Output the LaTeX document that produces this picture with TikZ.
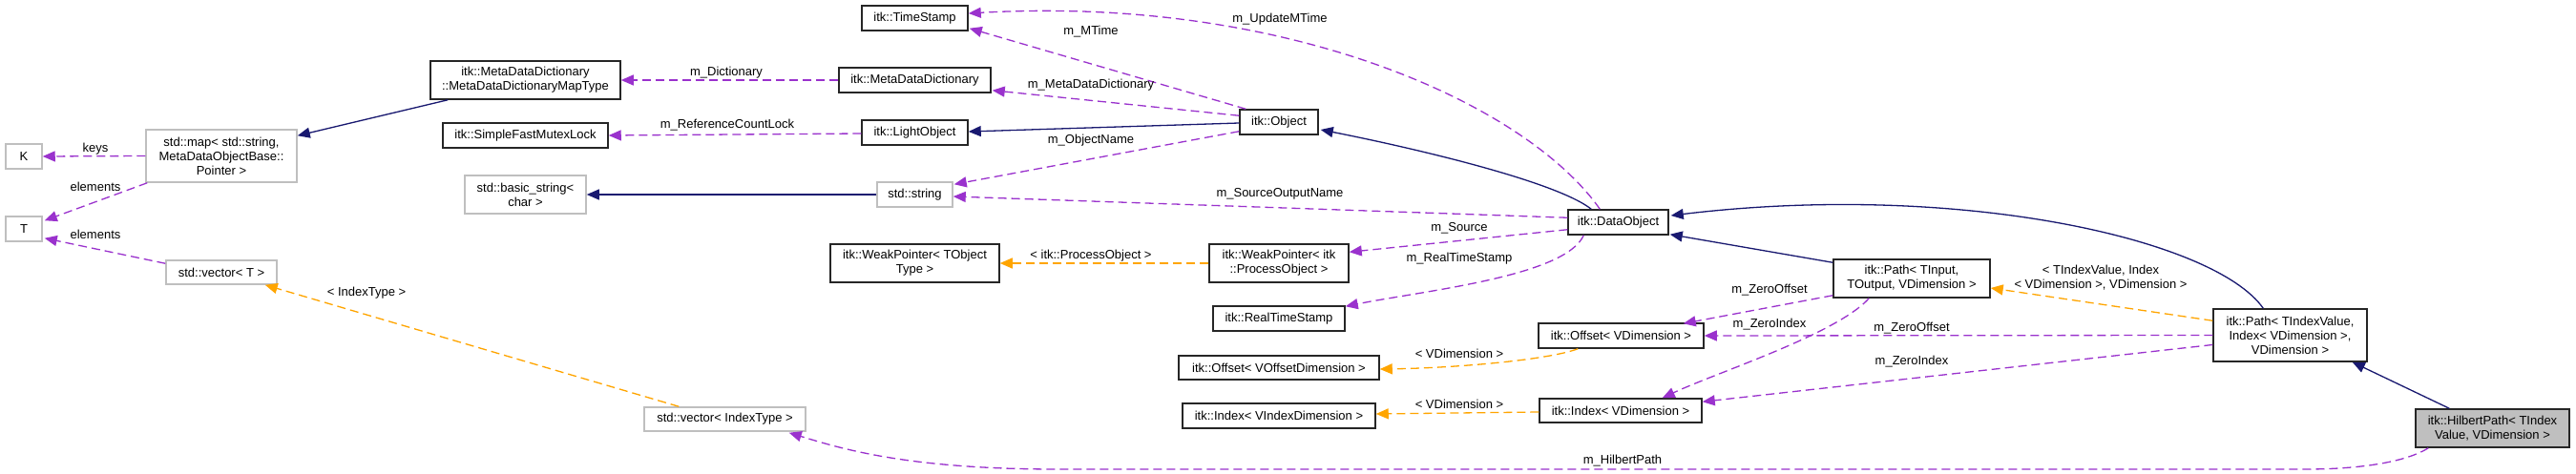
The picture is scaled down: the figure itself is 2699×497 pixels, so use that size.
\documentclass[tikz,border=0pt]{standalone}
\usepackage{fontspec}
\setmainfont{Liberation Sans}
\usetikzlibrary{arrows.meta,calc}
\definecolor{dpurple}{HTML}{9A32CD}
\definecolor{dorange}{HTML}{FFA500}
\definecolor{dnavy}{HTML}{191970}
\definecolor{dgrey}{HTML}{BFBFBF}
\begin{document}
\begin{tikzpicture}[x=1pt,y=-1pt,
  font=\fontsize{13}{15}\selectfont,
  cls/.style={draw=black!85, fill=white, line width=1.5pt, inner sep=0pt, align=center},
  ucls/.style={draw=dgrey, fill=white, line width=1.5pt, inner sep=0pt, align=center},
  curcls/.style={draw=black!85, fill=dgrey, line width=1.5pt, inner sep=0pt, align=center},
  lbl/.style={inner sep=0pt, align=center},
  inh/.style={draw=dnavy, line width=1.3pt, -{Triangle[length=13pt,width=11pt]}, dnavy},
  usage/.style={draw=dpurple, line width=1.3pt, dash pattern=on 9pt off 5pt, -{Triangle[length=13pt,width=11pt]}, dpurple},
  tmpl/.style={draw=dorange, line width=1.3pt, dash pattern=on 9pt off 5pt, -{Triangle[length=13pt,width=11pt]}, dorange}]
\fill[white] (0,0) rectangle (2699,497);
\useasboundingbox (0,0) rectangle (2699,497);

% nodes
\node[cls, minimum width=199pt, minimum height=40pt] (mapType) at (550.5,84) {itk::MetaDataDictionary\\::MetaDataDictionaryMapType};
\node[cls, minimum width=173pt, minimum height=26pt] (sfml) at (550.5,142) {itk::SimpleFastMutexLock};
\node[ucls, minimum width=158pt, minimum height=55pt] (stdmap) at (232,163.5) {std::map< std::string,\\ MetaDataObjectBase::\\Pointer >};
\node[ucls, minimum width=38pt, minimum height=26pt] (K) at (25,164) {K};
\node[ucls, minimum width=38pt, minimum height=26pt] (T) at (25,240) {T};
\node[ucls, minimum width=127pt, minimum height=40pt] (bstr) at (550.5,204) {std::basic\_string<\\char >};
\node[ucls, minimum width=116pt, minimum height=25pt] (vecT) at (232,285.5) {std::vector< T >};
\node[ucls, minimum width=169pt, minimum height=25pt] (vecIdx) at (759.5,439.5) {std::vector< IndexType >};
\node[cls, minimum width=111pt, minimum height=26pt] (ts) at (958.5,19) {itk::TimeStamp};
\node[cls, minimum width=159pt, minimum height=26pt] (mdd) at (958.5,84) {itk::MetaDataDictionary};
\node[cls, minimum width=111pt, minimum height=26pt] (lobj) at (958.5,139) {itk::LightObject};
\node[ucls, minimum width=79pt, minimum height=26pt] (sstr) at (958.5,204) {std::string};
\node[cls, minimum width=177pt, minimum height=40pt] (wpT) at (958.5,276) {itk::WeakPointer< TObject\\Type >};
\node[cls, minimum width=82pt, minimum height=26pt] (obj) at (1340,128) {itk::Object};
\node[cls, minimum width=146pt, minimum height=40pt] (wpPO) at (1340,276) {itk::WeakPointer< itk\\::ProcessObject >};
\node[cls, minimum width=138pt, minimum height=26pt] (rts) at (1340,334) {itk::RealTimeStamp};
\node[cls, minimum width=210pt, minimum height=25pt] (offV) at (1340,385.5) {itk::Offset< VOffsetDimension >};
\node[cls, minimum width=202pt, minimum height=26pt] (idxV) at (1340,436) {itk::Index< VIndexDimension >};
\node[cls, minimum width=105pt, minimum height=26pt] (dobj) at (1695.5,233) {itk::DataObject};
\node[cls, minimum width=173pt, minimum height=26pt] (offD) at (1698.5,352) {itk::Offset< VDimension >};
\node[cls, minimum width=170pt, minimum height=25pt] (idxD) at (1698,430.5) {itk::Index< VDimension >};
\node[cls, minimum width=164pt, minimum height=40pt] (pathIn) at (2003,292) {itk::Path< TInput,\\ TOutput, VDimension >};
\node[cls, minimum width=161pt, minimum height=55pt] (pathIV) at (2399.5,351.5) {itk::Path< TIndexValue,\\ Index< VDimension >,\\ VDimension >};
\node[curcls, minimum width=161pt, minimum height=40pt] (hp) at (2611.5,449) {itk::HilbertPath< TIndex\\Value, VDimension >};

% edges
\draw[inh] ($(mapType.south west)+(19,0)$) -- ($(stdmap.north east)+(0,7)$);
\draw[usage] (stdmap.west) -- (K.east);
\draw[usage] ($(stdmap.south west)+(2,0)$) -- ($(T.north east)+(2,5)$);
\draw[usage] ($(vecT.north west)+(0,4)$) -- ($(T.south east)+(2,-4)$);
\draw[tmpl] ($(vecIdx.north west)+(37,0)$) -- ($(vecT.south east)+(-13,0)$);
\draw[usage] ($(hp.south west)+(14,0)$) .. controls (2520,485) and (2470,492) .. (2416,492) -- (1108,492) .. controls (950,492) and (880,470) .. ($(vecIdx.south east)+(-18,1)$);
\draw[usage] (mdd.west) -- (mapType.east);
\draw[usage] ($(lobj.west)+(0,1)$) -- (sfml.east);
\draw[inh] (sstr.west) -- (bstr.east);
\draw[usage] ($(obj.north west)+(7,0)$) -- ($(ts.south east)+(1,-3)$);
\draw[usage] ($(dobj.north west)+(34,0)$) .. controls (1600,110) and (1350,-5) .. ($(ts.east)+(0,-5)$);
\draw[usage] ($(obj.north west)+(0,7)$) -- ($(mdd.south east)+(1,-3)$);
\draw[inh] ($(obj.west)+(0,1)$) -- ($(lobj.east)+(0,-1)$);
\draw[usage] ($(obj.south west)+(0,-4)$) -- ($(sstr.north east)+(1,3)$);
\draw[usage] ($(dobj.north west)+(0,9)$) -- ($(sstr.east)+(0,2)$);
\draw[inh] ($(dobj.north west)+(25,0)$) .. controls (1630,190) and (1480,155) .. ($(obj.east)+(2,8)$);
\draw[usage] ($(dobj.south west)+(0,-6)$) -- ($(wpPO.north east)+(0,9)$);
\draw[usage] ($(dobj.south west)+(17,0)$) .. controls (1640,290) and (1490,305) .. ($(rts.north east)+(0,1)$);
\draw[tmpl] (wpPO.west) -- (wpT.east);
\draw[inh] ($(pathIn.north west)+(0,4)$) -- ($(dobj.south east)+(1,-1)$);
\draw[inh] ($(pathIV.north west)+(53,0)$) .. controls (2320,250) and (2050,190) .. ($(dobj.east)+(2,-7)$);
\draw[usage] ($(pathIn.south west)+(0,-3)$) -- ($(offD.north east)+(-22,1)$);
\draw[usage] ($(pathIn.south west)+(38,0)$) .. controls (1925,350) and (1800,390) .. ($(idxD.north east)+(-42,0)$);
\draw[usage] (pathIV.west) -- (offD.east);
\draw[usage] ($(pathIV.west)+(0,10)$) -- ($(idxD.north east)+(0,4)$);
\draw[tmpl] ($(pathIV.north west)+(0,13)$) -- ($(pathIn.east)+(0,10)$);
\draw[inh] ($(hp.north west)+(36,0)$) -- ($(pathIV.south east)+(-16,0)$);
\draw[tmpl] ($(offD.south west)+(42,0)$) .. controls (1620,378) and (1520,386) .. ($(offV.east)+(0,1.5)$);
\draw[tmpl] ($(idxD.west)+(0,1.5)$) -- ($(idxV.east)+(0,-2)$);

% labels
\node[lbl] (l1) at (100,156) {keys};
\node[lbl] (l2) at (100,196) {elements};
\node[lbl] (l3) at (100,246) {elements};
\node[lbl] (l4) at (384,307) {< IndexType >};
\node[lbl] (l5) at (761,76) {m\_Dictionary};
\node[lbl] (l6) at (762,131) {m\_ReferenceCountLock};
\node[lbl] (l7) at (1143,33) {m\_MTime};
\node[lbl] (l8) at (1341,20) {m\_UpdateMTime};
\node[lbl] (l9) at (1143,89) {m\_MetaDataDictionary};
\node[lbl] (l10) at (1143,147) {m\_ObjectName};
\node[lbl] (l11) at (1341,203) {m\_SourceOutputName};
\node[lbl] (l12) at (1529,239) {m\_Source};
\node[lbl] (l13) at (1529,271) {m\_RealTimeStamp};
\node[lbl] (l14) at (1143,268) {< itk::ProcessObject >};
\node[lbl] (l15) at (1529,371) {< VDimension >};
\node[lbl] (l16) at (1529,424) {< VDimension >};
\node[lbl] (l17) at (1700,483) {m\_HilbertPath};
\node[lbl] (l18) at (2201,291) {< TIndexValue, Index\\< VDimension >, VDimension >};
\node[lbl] (l19) at (1854,304) {m\_ZeroOffset};
\node[lbl] (l20) at (1854,340) {m\_ZeroIndex};
\node[lbl] (l21) at (2003,344) {m\_ZeroOffset};
\node[lbl] (l22) at (2003,379) {m\_ZeroIndex};
\end{tikzpicture}
\end{document}
